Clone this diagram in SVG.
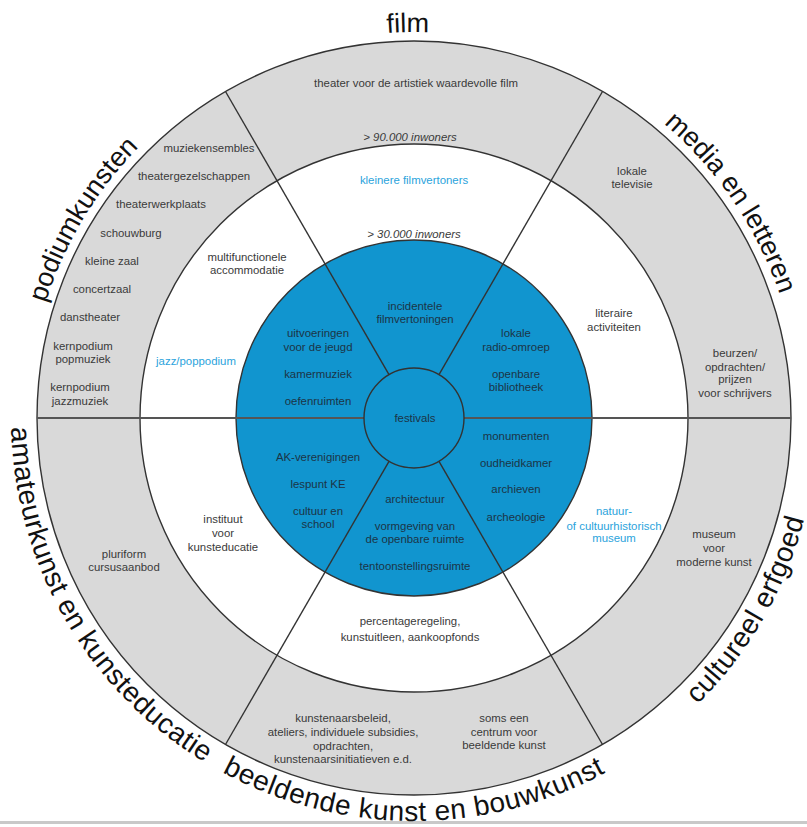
<svg xmlns="http://www.w3.org/2000/svg" width="807" height="827" viewBox="0 0 807 827">
<style>
text{font-family:"Liberation Sans",Arial,sans-serif;}
.t{font-size:11.4px;fill:#3a3a3a;text-anchor:middle;}
.b{font-size:11.4px;fill:#1c3446;text-anchor:middle;}
.c{font-size:11.4px;fill:#2ba3dc;text-anchor:middle;}
.i{font-style:italic;}
.tt{font-size:27px;fill:#111;text-anchor:middle;}
.tb{font-size:28px;fill:#111;text-anchor:middle;letter-spacing:0.5px;}
.ring{stroke:#333;stroke-width:1.4;}
#connectors line{stroke:#333;stroke-width:1.4;}
#connectors .h{stroke:#555;stroke-width:2;}
</style>
<defs>
<path id="arcTop" d="M 28 418 A 386 386 0 0 1 800 418"/>
<path id="arcBot" d="M 11 418 A 403 403 0 0 0 817 418"/>
</defs>
<rect width="807" height="827" fill="#fff"/>
<rect x="0" y="821" width="807" height="3" fill="#c9c9c9"/>
<g id="outer-ring"><circle cx="414" cy="418" r="377" fill="#d9d9d9" class="ring"/></g>
<g id="middle-ring"><circle cx="414" cy="418" r="274" fill="#fff" class="ring"/></g>
<g id="core"><circle cx="414" cy="418" r="178" fill="#1195cf" class="ring"/></g>
<g id="connectors">
<line class="h" x1="37" y1="418" x2="364" y2="418"/>
<line class="h" x1="464" y1="418" x2="791" y2="418"/>
<line x1="439" y1="374.7" x2="602.5" y2="91.5"/>
<line x1="389" y1="374.7" x2="225.5" y2="91.5"/>
<line x1="389" y1="461.3" x2="225.5" y2="744.5"/>
<line x1="439" y1="461.3" x2="602.5" y2="744.5"/>
</g>
<g id="festivals"><circle cx="414" cy="418" r="50" fill="#1195cf" class="ring"/><text class="b" x="415" y="422">festivals</text></g>

<g id="titles">
<text class="tt"><textPath href="#arcTop" startOffset="49.5%">film</textPath></text>
<text class="tt"><textPath href="#arcTop" startOffset="17.2%">podiumkunsten</textPath></text>
<text class="tt"><textPath href="#arcTop" startOffset="81%">media en letteren</textPath></text>
<text class="tb"><textPath href="#arcBot" startOffset="16.7%">amateurkunst en kunsteducatie</textPath></text>
<text class="tb"><textPath href="#arcBot" startOffset="50%">beeldende kunst en bouwkunst</textPath></text>
<text class="tb"><textPath href="#arcBot" startOffset="83.4%">cultureel erfgoed</textPath></text>
</g>

<g id="film">
<text class="t" x="416" y="87">theater voor de artistiek waardevolle film</text>
<text class="t i" x="410" y="141">&gt; 90.000 inwoners</text>
<text class="c" x="414" y="184">kleinere filmvertoners</text>
<text class="t i" x="414" y="238">&gt; 30.000 inwoners</text>
<text class="b" x="415" y="310">incidentele</text>
<text class="b" x="415" y="323">filmvertoningen</text>
</g>

<g id="podiumkunsten">
<text class="t" x="209" y="152">muziekensembles</text>
<text class="t" x="194" y="180">theatergezelschappen</text>
<text class="t" x="161" y="208">theaterwerkplaats</text>
<text class="t" x="131" y="237">schouwburg</text>
<text class="t" x="112" y="265">kleine zaal</text>
<text class="t" x="102" y="293">concertzaal</text>
<text class="t" x="90" y="321">danstheater</text>
<text class="t" x="83" y="350">kernpodium</text>
<text class="t" x="83" y="363">popmuziek</text>
<text class="t" x="80" y="391">kernpodium</text>
<text class="t" x="80" y="405">jazzmuziek</text>
<text class="t" x="247" y="261">multifunctionele</text>
<text class="t" x="247" y="274">accommodatie</text>
<text class="c" x="196" y="365">jazz/poppodium</text>
<text class="b" x="318" y="337">uitvoeringen</text>
<text class="b" x="318" y="351">voor de jeugd</text>
<text class="b" x="318" y="378">kamermuziek</text>
<text class="b" x="318" y="405">oefenruimten</text>
</g>

<g id="media">
<text class="t" x="632" y="175">lokale</text>
<text class="t" x="632" y="188">televisie</text>
<text class="t" x="614" y="317">literaire</text>
<text class="t" x="614" y="331">activiteiten</text>
<text class="t" x="735" y="357">beurzen/</text>
<text class="t" x="735" y="371">opdrachten/</text>
<text class="t" x="735" y="383">prijzen</text>
<text class="t" x="735" y="397">voor schrijvers</text>
<text class="b" x="516" y="337">lokale</text>
<text class="b" x="516" y="351">radio-omroep</text>
<text class="b" x="516" y="378">openbare</text>
<text class="b" x="516" y="391">bibliotheek</text>
</g>

<g id="amateurkunst">
<text class="t" x="124" y="558">pluriform</text>
<text class="t" x="124" y="571">cursusaanbod</text>
<text class="t" x="223" y="523">instituut</text>
<text class="t" x="223" y="537">voor</text>
<text class="t" x="223" y="551">kunsteducatie</text>
<text class="b" x="318" y="461">AK-verenigingen</text>
<text class="b" x="318" y="488">lespunt KE</text>
<text class="b" x="318" y="515">cultuur en</text>
<text class="b" x="318" y="528">school</text>
</g>

<g id="beeldende-kunst">
<text class="b" x="415" y="503">architectuur</text>
<text class="b" x="415" y="530">vormgeving van</text>
<text class="b" x="415" y="543">de openbare ruimte</text>
<text class="b" x="415" y="570">tentoonstellingsruimte</text>
<text class="t" x="410" y="625">percentageregeling,</text>
<text class="t" x="410" y="641">kunstuitleen, aankoopfonds</text>
<text class="t" x="343" y="722">kunstenaarsbeleid,</text>
<text class="t" x="343" y="736">ateliers, individuele subsidies,</text>
<text class="t" x="343" y="750">opdrachten,</text>
<text class="t" x="343" y="763">kunstenaarsinitiatieven e.d.</text>
<text class="t" x="504" y="722">soms een</text>
<text class="t" x="504" y="736">centrum voor</text>
<text class="t" x="504" y="749">beeldende kunst</text>
</g>

<g id="cultureel-erfgoed">
<text class="b" x="516" y="440">monumenten</text>
<text class="b" x="516" y="467">oudheidkamer</text>
<text class="b" x="516" y="493">archieven</text>
<text class="b" x="516" y="521">archeologie</text>
<text class="c" x="614" y="515">natuur-</text>
<text class="c" x="614" y="530">of cultuurhistorisch</text>
<text class="c" x="614" y="542">museum</text>
<text class="t" x="714" y="538">museum</text>
<text class="t" x="714" y="552">voor</text>
<text class="t" x="714" y="566">moderne kunst</text>
</g>
</svg>
